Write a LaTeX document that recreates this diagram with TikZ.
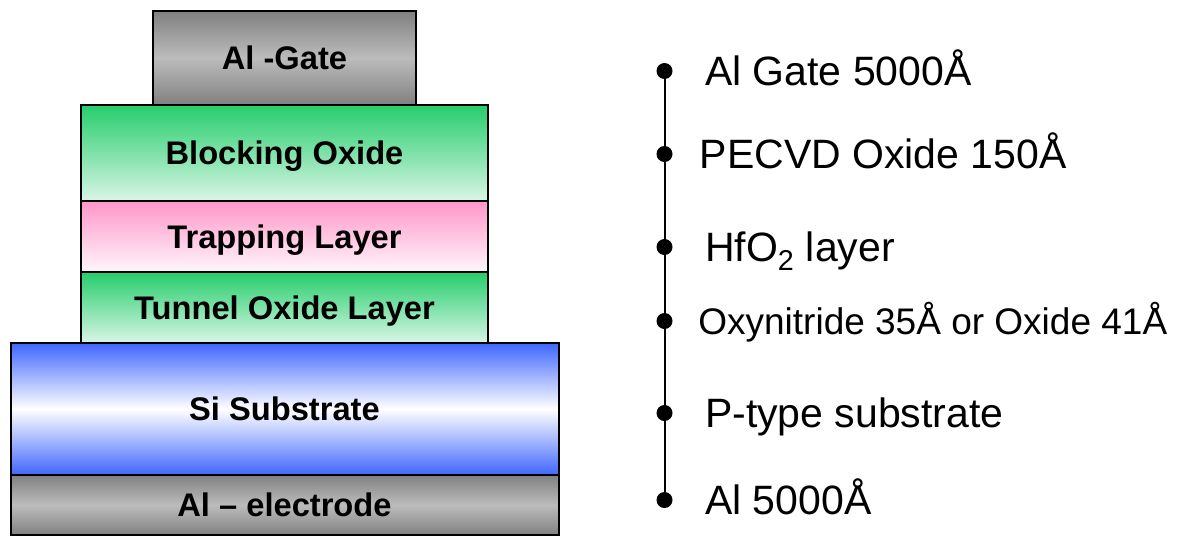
\documentclass[tikz,border=0pt]{standalone}
\usepackage{fontspec}
\setmainfont{Liberation Sans}
\usetikzlibrary{positioning}
\definecolor{algray}{RGB}{128,128,128}
\definecolor{allight}{RGB}{188,188,188}
\definecolor{oxgreen}{RGB}{38,205,108}
\definecolor{oxlight}{RGB}{216,246,230}
\definecolor{trappink}{RGB}{255,150,200}
\definecolor{traplight}{RGB}{255,246,251}
\definecolor{siblue}{RGB}{64,102,255}

\begin{document}
\begin{tikzpicture}[
  x=0.75pt, y=-0.75pt,
  layer/.style={draw, line width=1.5pt, inner sep=0pt, outer sep=0pt,
                text height=17.5pt, text depth=0pt,
                font=\bfseries\fontsize{24.5}{29}\selectfont},
  metal/.style={layer, top color=algray, bottom color=algray,
                middle color=allight},
  oxide/.style={layer, top color=oxgreen, bottom color=oxlight},
  trap/.style={layer, top color=trappink, bottom color=traplight},
  substrate/.style={layer, top color=siblue, bottom color=siblue,
                    middle color=white},
  dot/.style={circle, fill=black, inner sep=0pt, minimum size=12pt},
  lbl/.style={inner sep=0pt, text height=22pt, text depth=0pt,
              font=\fontsize{30.75}{36}\selectfont},
  wire/.style={line width=1.5pt}
]
\useasboundingbox (0,0) rectangle (1183,536);

% layer stack
\node[metal, minimum width=197.25pt, minimum height=70.5pt, anchor=north]
  (gate) at (284.5,11) {Al -Gate};
\node[oxide, minimum width=305.25pt, minimum height=72pt, below=0pt of gate]
  (block) {Blocking Oxide};
\node[trap, minimum width=305.25pt, minimum height=53.25pt, below=0pt of block]
  (trapping) {Trapping Layer};
\node[oxide, minimum width=305.25pt, minimum height=53.25pt, below=0pt of trapping]
  (tunnel) {Tunnel Oxide Layer};
\node[substrate, minimum width=411pt, minimum height=99pt, below=0pt of tunnel]
  (si) {Si Substrate};
\node[metal, minimum width=411pt, minimum height=45pt, below=0pt of si]
  (elec) {Al -- electrode};

% thickness legend
\node[dot] (d1) at (664.5,71) {};
\node[dot] (d2) at (664.5,154) {};
\node[dot] (d3) at (664.5,247) {};
\node[dot] (d4) at (664.5,321) {};
\node[dot] (d5) at (664.5,413) {};
\node[dot] (d6) at (664.5,500) {};

\node[lbl, right=24pt of d1] (t1) {Al Gate 5000Å};
\node[lbl, right=20pt of d2] (t2) {PECVD Oxide 150Å};
\node[lbl, right=24pt of d3] (t3) {HfO\textsubscript{2} layer};
\node[lbl, right=19pt of d4, text height=19.9pt,
      font=\fontsize{27.75}{33}\selectfont]
  (t4) {Oxynitride 35Å or Oxide 41Å};
\node[lbl, right=24pt of d5] (t5) {P-type substrate};
\node[lbl, right=24pt of d6] (t6) {Al 5000Å};

\draw[wire] (d1) -- (d6);
\end{tikzpicture}
\end{document}
